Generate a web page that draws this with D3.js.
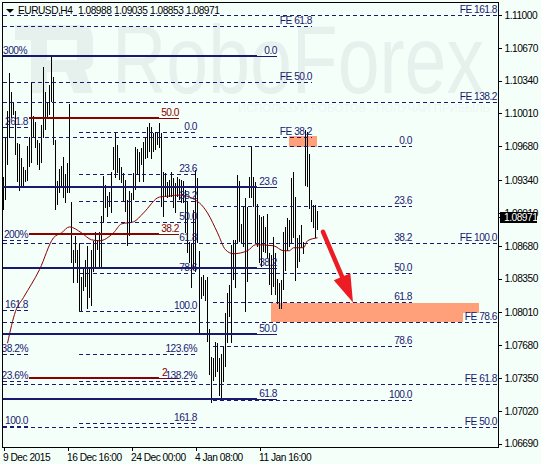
<!DOCTYPE html>
<html>
<head>
<meta charset="utf-8">
<script src="https://d3js.org/d3.v7.min.js"></script>
<style>
html, body { margin: 0; padding: 0; background: #f5fffa; }
svg { display: block; }
text { font-family: "Liberation Sans", Arial, sans-serif; font-size: 10.2px; letter-spacing: -0.5px; }
.fib { stroke: #191970; stroke-width: 1; stroke-dasharray: 4,3; shape-rendering: crispEdges; fill: none; }
.bar { stroke: #000; stroke-width: 1; shape-rendering: crispEdges; }
.axis path { display: none; }
.axis line { stroke: #000; shape-rendering: crispEdges; }
.axis text { fill: #000; font-size: 10.2px; font-family: "Liberation Sans", Arial, sans-serif; }
</style>
</head>
<body>
<svg width="541" height="464"></svg>
<script>
var highs = [
	1.0937, 1.0976, 1.1003, 1.1042, 1.1023, 1.1013, 1.1003, 1.0971, 1.0970, 1.0956,
	1.0947, 1.0944, 1.0968, 1.0977, 1.1032, 1.0998, 1.0992, 1.0974, 1.0971, 1.0989,
	1.1048, 1.1023, 1.1013, 1.1030, 1.1058, 1.1038, 1.0974, 1.0933, 1.0945, 1.0948,
	1.0957, 1.0940, 1.0951, 1.1011, 1.0912, 1.0864, 1.0878, 1.0864, 1.0871, 1.0837,
	1.0846, 1.0854, 1.0868, 1.0847, 1.0864, 1.0873, 1.0882, 1.0874, 1.0882, 1.0898,
	1.0938, 1.0929, 1.0918, 1.0922, 1.0942, 1.0967, 1.0982, 1.0969, 1.0956, 1.0947,
	1.0941, 1.0934, 1.0914, 1.0923, 1.0921, 1.0941, 1.0967, 1.0965, 1.0962, 1.0966,
	1.0972, 1.0977, 1.0987, 1.0991, 1.0987, 1.0981, 1.0982, 1.0982, 1.0991, 1.0981,
	1.0942, 1.0941, 1.0932, 1.0934, 1.0942, 1.0936, 1.0931, 1.0937, 1.0935, 1.0934,
	1.0933, 1.0924, 1.0912, 1.0872, 1.0871, 1.0904, 1.0944, 1.0936, 1.0863, 1.0837,
	1.0839, 1.0834, 1.0837, 1.0784, 1.0756, 1.0755, 1.0771, 1.0770, 1.0755, 1.0759,
	1.0766, 1.0800, 1.0821, 1.0829, 1.0869, 1.0874, 1.0874, 1.0939, 1.0933, 1.0890,
	1.0907, 1.0916, 1.0907, 1.0937, 1.0967, 1.0937, 1.0932, 1.0910, 1.0899, 1.0897,
	1.0898, 1.0887, 1.0900, 1.0861, 1.0859, 1.0877, 1.0861, 1.0835, 1.0831, 1.0834,
	1.0882, 1.0887, 1.0896, 1.0894, 1.0936, 1.0942, 1.0917, 1.0876, 1.0879, 1.0889,
	1.0872, 1.0984, 1.0982, 1.0960, 1.0914, 1.0909, 1.0909, 1.0903
];
var lows = [
	1.0904, 1.0914, 1.0949, 1.0976, 1.0996, 1.0999, 1.0959, 1.0932, 1.0923, 1.0926,
	1.0926, 1.0932, 1.0933, 1.0947, 1.0951, 1.0977, 1.0966, 1.0949, 1.0944, 1.0951,
	1.0976, 1.0984, 1.0996, 1.0999, 1.1013, 1.0969, 1.0904, 1.0909, 1.0921, 1.0927,
	1.0916, 1.0911, 1.0921, 1.0921, 1.0851, 1.0831, 1.0851, 1.0831, 1.0801, 1.0801,
	1.0823, 1.0827, 1.0804, 1.0815, 1.0807, 1.0842, 1.0847, 1.0864, 1.0847, 1.0847,
	1.0891, 1.0906, 1.0897, 1.0907, 1.0901, 1.0944, 1.0936, 1.0941, 1.0934, 1.0931,
	1.0912, 1.0902, 1.0868, 1.0878, 1.0891, 1.0914, 1.0924, 1.0939, 1.0932, 1.0949,
	1.0932, 1.0955, 1.0956, 1.0962, 1.0955, 1.0962, 1.0964, 1.0969, 1.0966, 1.0907,
	1.0897, 1.0917, 1.0916, 1.0917, 1.0917, 1.0906, 1.0901, 1.0917, 1.0914, 1.0911,
	1.0911, 1.0881, 1.0861, 1.0851, 1.0826, 1.0844, 1.0842, 1.0871, 1.0779, 1.0814,
	1.0817, 1.0812, 1.0771, 1.0738, 1.0710, 1.0732, 1.0736, 1.0741, 1.0717, 1.0713,
	1.0731, 1.0746, 1.0770, 1.0796, 1.0770, 1.0834, 1.0826, 1.0871, 1.0872, 1.0871,
	1.0867, 1.0801, 1.0832, 1.0916, 1.0916, 1.0907, 1.0871, 1.0867, 1.0851, 1.0847,
	1.0862, 1.0861, 1.0856, 1.0829, 1.0818, 1.0827, 1.0819, 1.0809, 1.0804, 1.0804,
	1.0824, 1.0843, 1.0863, 1.0867, 1.0871, 1.0876, 1.0833, 1.0846, 1.0852, 1.0866,
	1.0860, 1.0928, 1.0927, 1.0905, 1.0892, 1.0886, 1.0876, 1.0884
];
var maIndex = [2, 6, 10, 18, 25, 29, 33, 39, 44, 48, 55, 59, 65, 70, 78, 83, 88, 98, 102, 107, 111, 115, 122, 126, 135, 140, 143, 145, 150, 152, 157];
var maValues = [
	1.0770, 1.0802, 1.0816, 1.0844, 1.0876, 1.0881, 1.0887, 1.0881, 1.0874, 1.0873,
	1.0881, 1.0890, 1.0892, 1.0901, 1.0917, 1.0918, 1.0919, 1.0911, 1.0901, 1.0881,
	1.0864, 1.0860, 1.0863, 1.0869, 1.0868, 1.0863, 1.0863, 1.0866, 1.0866, 1.0873, 1.0876
];
var priceTicks = [1.11, 1.1067, 1.1034, 1.1001, 1.0968, 1.0934, 1.0901, 1.0868, 1.0835, 1.0801, 1.0768, 1.0735, 1.0702, 1.0669];
var timeTicks = [0, 32, 64, 96, 128];
var timeLabels = ["9 Dec 2015", "16 Dec 16:00", "24 Dec 00:00", "4 Jan 08:00", "11 Jan 16:00"];
var header = ["1.08988", "1.09035", "1.08853", "1.08971"];
var lastPrice = 1.08971;

// dashed fibo levels, long ones reach the price scale
var feLevels = [1.1100, 1.1013, 1.0871, 1.0791, 1.0729, 1.0686];
var feNames = ["FE 161.8", "FE 138.2", "FE 100.0", "FE 78.6", "FE 61.8", "FE 50.0"];
var feMidLevels = [1.1089, 1.1033, 1.0977];
var feMidNames = ["FE 61.8", "FE 50.0", "FE 38.2"];
var fibALevels = [1.0982, 1.0940, 1.0913, 1.0892, 1.0871, 1.0841, 1.0802, 1.0759, 1.0732, 1.0690];
var fibANames = ["0.0", "23.6", "38.2", "50.0", "61.8", "78.6", "100.0", "123.6%", "138.2%", "161.8"];
var fibBLevels = [1.0968, 1.0908, 1.0871, 1.0841, 1.0811, 1.0767, 1.0713];
var fibBNames = ["0.0", "23.6", "38.2", "50.0", "61.8", "78.6", "100.0"];
var fibCLevels = [1.0987, 1.0874, 1.0803, 1.0759, 1.0732, 1.0687];
var fibCNames = ["261.8", "200%", "161.8", "138.2%", "123.6%", "100.0"];
// solid retracement lines
var navyLevels = [1.1059, 1.0927, 1.0846, 1.0779, 1.0714];
var navyNames = ["0.0", "23.6", "38.2", "50.0", "61.8"];
var redLevels = [1.0996, 1.0880, 1.0735];
var redNames = ["50.0", "38.2", "23.6"];

var svg = d3.select("svg");
var xScale = d3.scaleLinear().domain([0, 157]).range([3, 317]);
var yScale = d3.scaleLinear().domain([1.0669, 1.11]).range([443.7, 15]);

svg.append("rect").attr("width", 541).attr("height", 464).attr("fill", "#f5fffa");

// clip so left labels get cut by the frame like the original
svg.append("clipPath").attr("id", "plot").append("rect")
	.attr("x", 3).attr("y", 3).attr("width", 495).attr("height", 444);
var plot = svg.append("g").attr("clip-path", "url(#plot)");

// watermark
var mark = plot.append("g").attr("fill", "#e6f1ee");
mark.append("path").attr("fill-rule", "evenodd")
	.attr("d", "M15 25H80Q93 25 93 40V62Q93 68 85 70L93 93H74L66 72H47V93H31V40H15Z M47 40V60H77V40Z");
mark.append("text").attr("x", 112).attr("y", 93).attr("textLength", 372)
	.attr("lengthAdjust", "spacingAndGlyphs")
	.style("font-size", "97px").style("letter-spacing", "0")
	.text("RoboForex");
plot.append("text").attr("x", 238).attr("y", 112).attr("fill", "#edf6f3")
	.attr("textLength", 252).attr("lengthAdjust", "spacingAndGlyphs")
	.style("font-size", "10px").style("letter-spacing", "0").text("ИСПОЛЬЗУЙ РОБОТОВ - ПОЛУЧАЙ ПРИБЫЛЬ");

// target zones
var zones = [
	{ i0 : 143, i1 : 157, top : 1.0978, bottom : 1.0967 },
	{ i0 : 134, i1 : 238, top : 1.0810, bottom : 1.0791 }
];
plot.selectAll(".zone").data(zones).enter().append("rect").attr("class", "zone")
	.attr("fill", "#ffa07a")
	.attr("x", function(d) { return xScale(d.i0); })
	.attr("width", function(d) { return xScale(d.i1) - xScale(d.i0); })
	.attr("y", function(d) { return Math.round(yScale(d.top)); })
	.attr("height", function(d) { return Math.round(yScale(d.bottom)) - Math.round(yScale(d.top)); });

// bars
plot.selectAll(".bar").data(highs).enter().append("line").attr("class", "bar")
	.attr("x1", function(d, i) { return xScale(i) + 0.5; })
	.attr("x2", function(d, i) { return xScale(i) + 0.5; })
	.attr("y1", function(d) { return yScale(d); })
	.attr("y2", function(d, i) { return yScale(lows[i]); });

// moving average
var ma = d3.line().curve(d3.curveMonotoneX)
	.x(function(d, i) { return xScale(maIndex[i]) + 0.5; })
	.y(function(d) { return yScale(d); });
plot.append("path").datum(maValues).attr("d", ma)
	.attr("fill", "none").attr("stroke", "#8b0000").attr("stroke-width", 1);

function crisp(p) {
	return Math.round(yScale(p)) + 0.5;
}

function dashed(levels, i0, i1) {
	plot.append("g").selectAll("line").data(levels).enter().append("line")
		.attr("class", "fib")
		.attr("x1", xScale(i0)).attr("x2", xScale(i1))
		.attr("y1", crisp).attr("y2", crisp);
}

function labels(levels, names, i1, color) {
	plot.append("g").attr("text-anchor", "end").attr("fill", color)
		.selectAll("text").data(levels).enter().append("text")
		.attr("x", xScale(i1))
		.attr("y", function(d) { return Math.round(yScale(d)) - 2; })
		.text(function(d, i) { return names[i]; });
}

dashed(feLevels, 0, 247.5);
dashed(feMidLevels, 0, 154.5);
dashed(fibALevels, 38, 97);
dashed(fibBLevels, 105, 204.5);
dashed(fibCLevels, 0, 12.5);

// solid lines: heavy part then a thin tail under the label
function solid(levels, i0, i1, i2, color) {
	var g = plot.append("g").attr("stroke", color).style("shape-rendering", "crispEdges");
	g.selectAll(".heavy").data(levels).enter().append("line").attr("class", "heavy")
		.attr("x1", xScale(i0)).attr("x2", xScale(i1))
		.attr("y1", function(d) { return Math.round(yScale(d)); })
		.attr("y2", function(d) { return Math.round(yScale(d)); })
		.attr("stroke-width", 2);
	g.selectAll(".thin").data(levels).enter().append("line").attr("class", "thin")
		.attr("x1", xScale(i1)).attr("x2", xScale(i2))
		.attr("y1", crisp).attr("y2", crisp);
}
solid(navyLevels, 0, 127, 137, "#191970");
solid(redLevels, 13, 78, 88, "#8b0000");

// label background of FE 78.6 cuts the zone corner
plot.append("rect").attr("fill", "#f5fffa")
	.attr("x", xScale(230)).attr("width", xScale(238) - xScale(230))
	.attr("y", Math.round(yScale(1.0800))).attr("height", Math.round(yScale(1.0791)) - Math.round(yScale(1.0800)));

labels(feLevels, feNames, 247, "#191970");
labels(feMidLevels, feMidNames, 154.5, "#191970");
labels(fibALevels, fibANames, 97, "#191970");
labels(fibBLevels, fibBNames, 204.5, "#191970");
labels(fibCLevels, fibCNames, 12.5, "#191970");
labels(navyLevels, navyNames, 137, "#191970");
labels(redLevels.slice(0, 2), redNames, 88, "#8b0000");
plot.append("text").attr("x", xScale(79.5)).attr("y", crisp(1.0735) - 3)
	.attr("fill", "#8b0000").text("2");
plot.append("text").attr("x", xScale(6)).attr("y", crisp(1.1059) - 3)
	.attr("text-anchor", "middle").attr("fill", "#191970").text("300%");

// arrow
var arrowFrom = { i : 160, p : 1.0882 };
var arrowTo = { i : 175, p : 1.0811 };
var ax = xScale(arrowFrom.i), ay = yScale(arrowFrom.p);
var tx = xScale(arrowTo.i), ty = yScale(arrowTo.p);
var len = Math.sqrt((tx - ax) * (tx - ax) + (ty - ay) * (ty - ay));
var ux = (tx - ax) / len, uy = (ty - ay) / len;
var bx = tx - ux * 28, by = ty - uy * 28;
plot.append("line").attr("x1", ax).attr("y1", ay).attr("x2", bx).attr("y2", by)
	.attr("stroke", "#ed1c24").attr("stroke-width", 4.5).attr("stroke-linecap", "round");
plot.append("path").attr("fill", "#ed1c24")
	.attr("d", "M" + tx + " " + ty + "L" + (bx - uy * 9) + " " + (by + ux * 9)
		+ "L" + (bx + uy * 9) + " " + (by - ux * 9) + "Z");

// frame
svg.append("rect").attr("x", 2.5).attr("y", 2.5).attr("width", 496).attr("height", 445)
	.attr("fill", "none").attr("stroke", "#000").style("shape-rendering", "crispEdges");

// axes
svg.append("g").attr("class", "axis").attr("transform", "translate(498.5,0)")
	.call(d3.axisRight(yScale).tickValues(priceTicks).tickSize(3).tickPadding(3)
		.tickFormat(d3.format(".5f")));
var xAxis = svg.append("g").attr("class", "axis").attr("transform", "translate(0.5,447.5)")
	.call(d3.axisBottom(xScale).tickValues(timeTicks).tickSize(3).tickPadding(3)
		.tickFormat(function(d, i) { return timeLabels[i]; }));
xAxis.selectAll("text").attr("text-anchor", "start").attr("x", -1);

// last price box
svg.append("rect").attr("x", 500).attr("y", Math.round(yScale(lastPrice)) - 5)
	.attr("width", 37).attr("height", 11).attr("fill", "#000");
svg.append("line").attr("x1", 498.5).attr("x2", 501).attr("y1", crisp(lastPrice)).attr("y2", crisp(lastPrice))
	.attr("stroke", "#000");
svg.append("text").attr("x", 504).attr("y", Math.round(yScale(lastPrice)) + 4)
	.attr("fill", "#fff").text(d3.format(".5f")(lastPrice));

// header
svg.append("path").attr("fill", "#000").attr("d", "M6 9H14L10 13Z");
svg.append("text").attr("x", 18).attr("y", 14).attr("fill", "#000").text("EURUSD,H4");
svg.append("g").selectAll("text").data(header).enter().append("text")
	.attr("x", function(d, i) { return 78 + i * 36; })
	.attr("y", 14).attr("fill", "#000")
	.text(function(d) { return d; });
</script>
</body>
</html>
